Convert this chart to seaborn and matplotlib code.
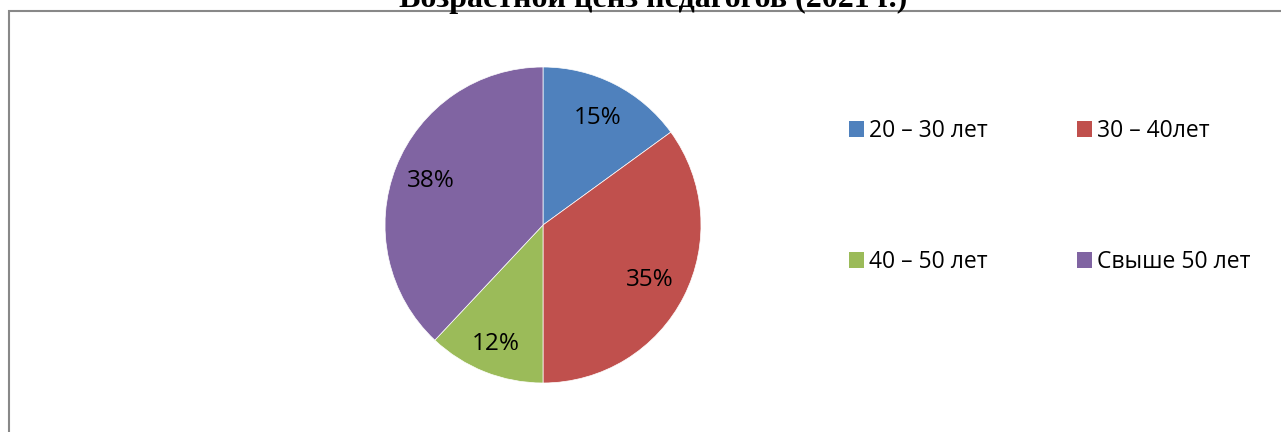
import matplotlib
matplotlib.use('Agg')
import matplotlib.pyplot as plt
from matplotlib.patches import Patch, Rectangle
import seaborn as sns

# age groups of teachers, percent
groups = ['20 – 30 лет', '30 – 40лет', '40 – 50 лет', 'Свыше 50 лет']
shares = [15, 35, 12, 38]
colors = ['#4F81BD', '#C0504D', '#9BBB59', '#8064A2']
title = 'Возрастной ценз педагогов (2021 г.)'

sns.set_theme(style='white')
plt.rcParams['font.family'] = ['Open Sans', 'DejaVu Sans']
plt.rcParams['text.color'] = 'black'

W, H = 1281, 432
fig = plt.figure(figsize=(W / 100, H / 100), dpi=100)
fig.patch.set_facecolor('white')

# chart frame (runs off the right and bottom edge)
fig.add_artist(Rectangle((8.5 / W, -0.05), 1.1, 1 - 11 / H + 0.05,
                         transform=fig.transFigure, fill=False,
                         edgecolor='#888888', linewidth=1.5))

# title, cut at the top like in the source
fig.text(653 / W, 1 - 7 / H, title, ha='center', va='baseline',
         fontsize=23, fontweight='bold', family=['Liberation Serif', 'DejaVu Serif'],
         color='black')

# pie: centre (543, 225), radius 158 px
r = 158
ax = fig.add_axes([(543 - r) / W, 1 - (225 + r) / H, 2 * r / W, 2 * r / H])
pal = sns.color_palette(colors)
wedges, texts, autotexts = ax.pie(shares, colors=pal, startangle=90, counterclock=False,
                                  autopct='%1.0f%%', pctdistance=0.76,
                                  wedgeprops=dict(edgecolor='white', linewidth=0.5),
                                  textprops=dict(fontsize=17.5, color='black'))
# the small green slice has its label pushed outward a bit
x, y = autotexts[2].get_position()
autotexts[2].set_position((x * 0.81 / 0.76, y * 0.81 / 0.76))
ax.set_xlim(-1, 1)
ax.set_ylim(-1, 1)
ax.set_aspect('equal')
ax.axis('off')

handles = [Patch(facecolor=c, edgecolor='none') for c in pal]
order = [0, 2, 1, 3]
fig.legend([handles[i] for i in order], [groups[i] for i in order],
           loc='upper left', bbox_to_anchor=(849 / W, 1 - 119 / H), ncol=2,
           frameon=False, fontsize=16.5, handlelength=0.66, handleheight=0.66,
           handletextpad=0.22, columnspacing=3.9, labelspacing=4.68,
           borderpad=0, borderaxespad=0, labelcolor='black')

fig.savefig('out.png', dpi=100)
